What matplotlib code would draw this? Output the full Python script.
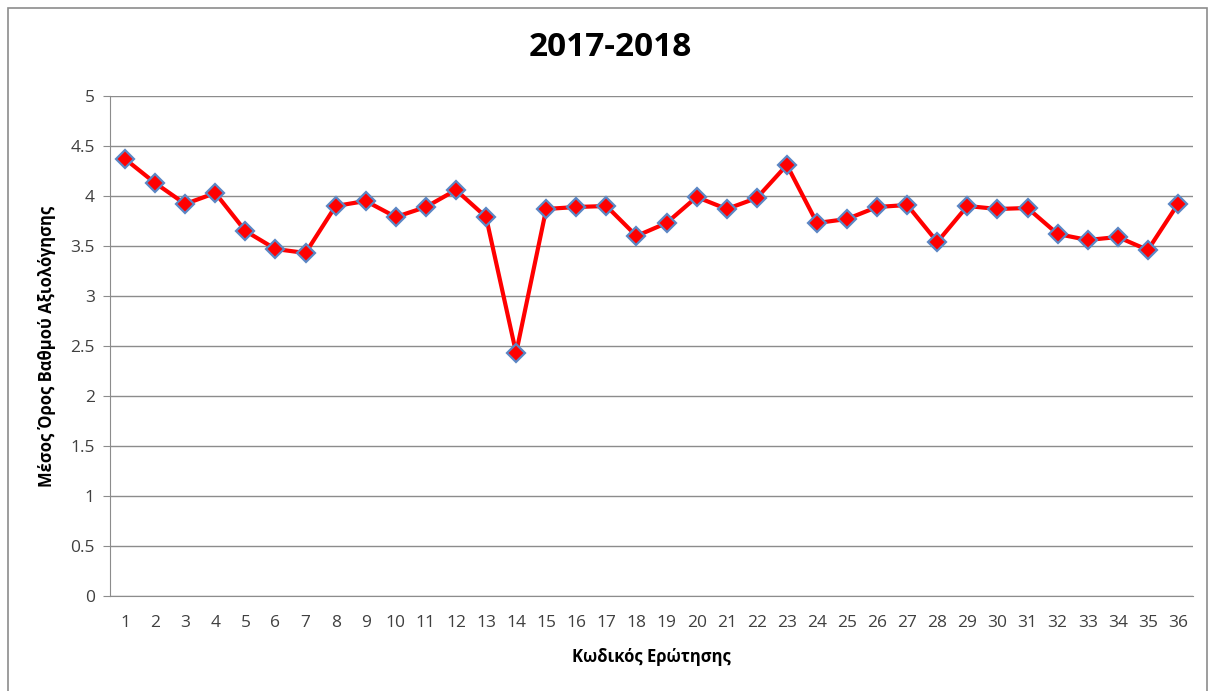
import matplotlib
matplotlib.use("Agg")
import matplotlib.pyplot as plt
from matplotlib.patches import Rectangle

plt.rcParams['font.family'] = ['Open Sans', 'DejaVu Sans']

questions = list(range(1, 37))
means = [4.37, 4.13, 3.92, 4.03, 3.65, 3.47, 3.43, 3.90, 3.95, 3.79,
         3.89, 4.06, 3.79, 2.43, 3.87, 3.89, 3.90, 3.60, 3.73, 3.99,
         3.87, 3.98, 4.31, 3.73, 3.77, 3.89, 3.91, 3.54, 3.90, 3.87,
         3.88, 3.62, 3.56, 3.59, 3.46, 3.92]
y_ticks = [0, 0.5, 1, 1.5, 2, 2.5, 3, 3.5, 4, 4.5, 5]
y_tick_labels = ['0', '0.5', '1', '1.5', '2', '2.5', '3', '3.5', '4', '4.5', '5']
title = '2017-2018'
xlabel = 'Κωδικός Ερώτησης'
ylabel = 'Μέσος Όρος Βαθμού Αξιολόγησης'

fig = plt.figure(figsize=(12.15, 6.91), dpi=100)
ax = fig.add_axes([110/1215, 1-596/691, (1193-110)/1215, (596-96)/691])

ax.plot(questions, means, color='#ff0000', lw=3, marker='D', markersize=9.5,
        markerfacecolor='#ff0000', markeredgecolor='#5b87c5', markeredgewidth=1.6,
        zorder=3)

ax.set_xlim(0.5, 36.5)
ax.set_ylim(0, 5)
ax.set_yticks(y_ticks)
ax.set_yticklabels(y_tick_labels)
ax.set_xticks(questions)
ax.set_xticklabels([str(q) for q in questions])
ax.yaxis.grid(True, color='#8c8c8c', lw=1)
ax.set_axisbelow(True)
for s in ['top', 'right']:
    ax.spines[s].set_visible(False)
for s in ['left', 'bottom']:
    ax.spines[s].set_color('#8c8c8c')
ax.tick_params(axis='y', length=5, color='#8c8c8c', labelsize=12.5, labelcolor='#404040', pad=6)
ax.tick_params(axis='x', length=0, labelsize=12.5, labelcolor='#404040', pad=14)

ax.set_xlabel(xlabel, fontsize=12, fontweight='bold', labelpad=12)
ax.set_ylabel(ylabel, fontsize=12, fontweight='bold', labelpad=10)
fig.text(0.502, 1-48/691, title, ha='center', va='center', fontsize=24, fontweight='bold')

fig.patches.append(Rectangle((8/1215, -0.01), (1207-8)/1215, 1-8/691+0.01,
                             transform=fig.transFigure, fill=False,
                             edgecolor='#8c8c8c', lw=1.2))

fig.savefig('out.png', dpi=100)
